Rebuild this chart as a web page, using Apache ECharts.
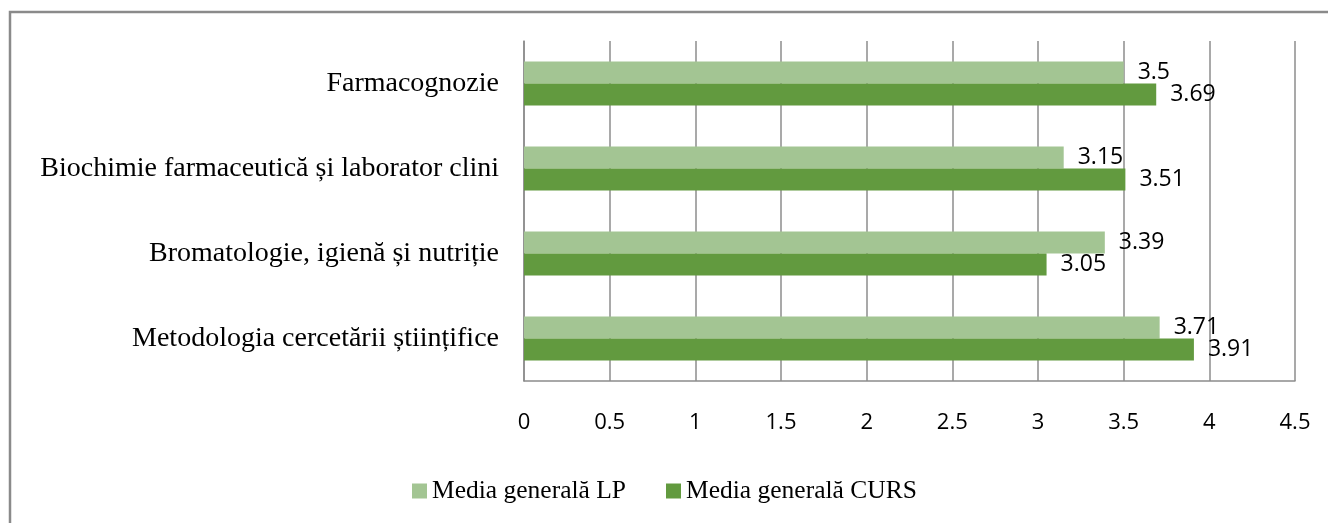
<!DOCTYPE html>
<html>
<head>
<meta charset="utf-8">
<script src="https://cdn.jsdelivr.net/npm/echarts@6/dist/echarts.min.js"></script>
<style>
html,body{margin:0;padding:0;background:#fff;}
#chart{width:1328px;height:523px;}
</style>
</head>
<body>
<div id="chart"></div>
<script>
const categories = [
  "Metodologia cercetării științifice",
  "Bromatologie, igienă și nutriție",
  "Biochimie farmaceutică și laborator clini",
  "Farmacognozie"
];
const seriesNames = ["Media generală LP", "Media generală CURS"];
const valuesLP = [3.71, 3.39, 3.15, 3.5];
const valuesCURS = [3.91, 3.05, 3.51, 3.69];
const xTicks = { min: 0, max: 4.5, interval: 0.5 };

const chart = echarts.init(document.getElementById('chart'), null, { renderer: 'canvas' });
const numFont = "'Open Sans', sans-serif";
const serifFont = "'Liberation Serif', serif";
const labelCfg = {
  show: true, position: 'right', distance: 14,
  color: '#000', fontFamily: numFont, fontSize: 23
};
chart.setOption({
  animation: false,
  backgroundColor: '#fff',
  graphic: [{
    type: 'rect', silent: true,
    shape: { x: 10, y: 12, width: 1340, height: 540 },
    style: { fill: 'none', stroke: '#8a8a8a', lineWidth: 2.5 }
  }],
  grid: { left: 524, right: 33, top: 41, bottom: 142, containLabel: false },
  legend: {
    data: seriesNames,
    left: 412, top: 478, padding: 0,
    itemWidth: 15, itemHeight: 15, itemGap: 40,
    icon: 'rect',
    textStyle: { fontFamily: serifFont, fontSize: 25.5, color: '#000' }
  },
  xAxis: {
    type: 'value', min: xTicks.min, max: xTicks.max, interval: xTicks.interval,
    axisLine: { show: true, lineStyle: { color: '#8c8c8c', width: 1.5 } },
    axisTick: { show: false },
    splitLine: { show: true, lineStyle: { color: '#8c8c8c', width: 1.5 } },
    axisLabel: { margin: 31, color: '#000', fontFamily: numFont, fontSize: 22 }
  },
  yAxis: {
    type: 'category', data: categories,
    axisLine: { show: true, lineStyle: { color: '#8c8c8c', width: 1.5 } },
    axisTick: { show: false },
    axisLabel: { margin: 25, color: '#000', fontFamily: serifFont, fontSize: 28 }
  },
  series: [
    { name: seriesNames[0], type: 'bar', data: valuesLP, barWidth: 22, barGap: '0%',
      itemStyle: { color: '#a3c593' }, label: labelCfg },
    { name: seriesNames[1], type: 'bar', data: valuesCURS, barWidth: 22, barGap: '0%',
      itemStyle: { color: '#629a3f' }, label: labelCfg }
  ]
});
</script>
</body>
</html>
